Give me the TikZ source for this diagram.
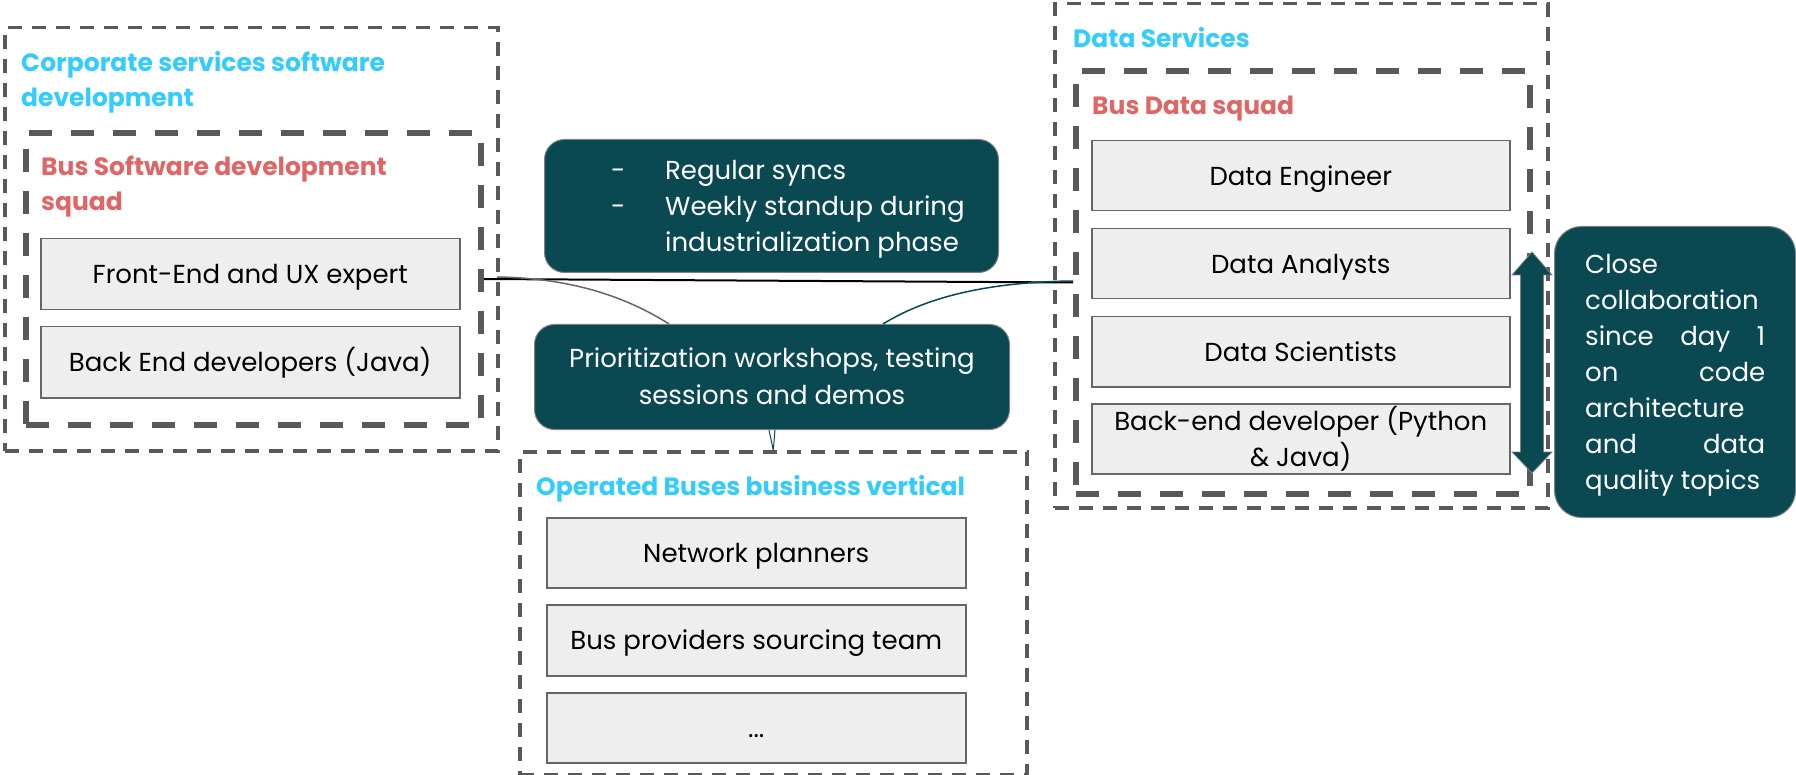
\documentclass[tikz,border=0pt]{standalone}
\usepackage{fontspec}
\setmainfont{Poppins}
\usetikzlibrary{calc}

\definecolor{deepteal}{HTML}{0A4852}
\definecolor{grpcyan}{HTML}{33CCFF}
\definecolor{squadred}{HTML}{E06666}
\definecolor{dashgray}{HTML}{595959}
\definecolor{rolegray}{HTML}{666666}
\definecolor{rolefill}{HTML}{EEEEEE}

\newcommand\rolesize{\fontsize{26}{36}\selectfont}
\newcommand\headsize{\fontsize{25}{35}\selectfont\bfseries}

\begin{document}
\begin{tikzpicture}[x=1pt,y=-1pt,
  groupbox/.style={draw=dashgray, line width=3.5pt, dash pattern=on 14pt off 10pt,
    anchor=north west, inner sep=0pt},
  squadbox/.style={draw=dashgray, line width=6pt, dash pattern=on 23pt off 19pt,
    anchor=north west, inner sep=0pt},
  role/.style={draw=rolegray, line width=1.5pt, fill=rolefill, anchor=north west,
    inner sep=0pt, font=\rolesize, text=black, align=center,
    text height=19pt, text depth=0pt},
  tealbox/.style={fill=deepteal, draw=gray, line width=1pt, rounded corners=20pt,
    inner sep=0pt},
  grouptitle/.style={text=grpcyan, font=\headsize, anchor=base west, inner sep=0pt,
    align=left},
  squadtitle/.style={text=squadred, font=\headsize, anchor=base west, inner sep=0pt,
    align=left},
  whitetext/.style={text=white, font=\rolesize, inner sep=0pt}
]
\useasboundingbox (0,0) rectangle (1796,775);

% ---------- Corporate services software development ----------
% (multi-line labels are anchored at the baseline of their last line)
\node[groupbox, minimum width=493pt, minimum height=423pt] (corp) at (3,26) {};
\node[grouptitle] (corpt) at (21,107) {Corporate services software\\development};
\node[squadbox, minimum width=455pt, minimum height=292pt] (bsw) at (23,130) {};
\node[squadtitle] (bswt) at (41,211) {Bus Software development\\squad};
\node[role, minimum width=419pt, minimum height=71pt] (fe) at (40,238) {Front-End and UX expert};
\node[role, minimum width=419pt, minimum height=71pt] (be) at (40,326) {Back End developers (Java)};

% ---------- Data Services ----------
\node[groupbox, minimum width=493pt, minimum height=504pt] (ds) at (1053,2) {};
\node[grouptitle] (dst) at (1073,48) {Data Services};
\node[squadbox, minimum width=454pt, minimum height=423pt] (bds) at (1073,68) {};
\node[squadtitle] (bdst) at (1092,115) {Bus Data squad};
\node[role, minimum width=418pt, minimum height=70pt] (deng) at (1091,140) {Data Engineer};
\node[role, minimum width=418pt, minimum height=70pt] (dan) at (1091,228) {Data Analysts};
\node[role, minimum width=418pt, minimum height=70pt] (dsc) at (1091,316) {Data Scientists};
\node[role, minimum width=418pt, minimum height=70pt, text height=55pt] (bed) at (1091,403)
  {Back-end developer (Python\\\& Java)};

% ---------- Operated Buses business vertical ----------
\node[groupbox, minimum width=507pt, minimum height=323pt] (ops) at (518,450) {};
\node[grouptitle] (opst) at (536,495) {Operated Buses business vertical};
\node[role, minimum width=419pt, minimum height=70pt] (np) at (546,517) {Network planners};
\node[role, minimum width=419pt, minimum height=71pt] (bps) at (546,604) {Bus providers sourcing team};
\node[role, minimum width=419pt, minimum height=70pt] (etc) at (546,692) {...};

% ---------- Connectors ----------
\coordinate (gstart) at (497,277);
\coordinate (tstart) at (1073,281);
\draw[line width=2pt, black] (bsw.east) -- (bds.west);

% ---------- Collaboration notes ----------
\node[tealbox, anchor=north west, minimum width=454pt, minimum height=133pt] (sync) at (544,139) {};
\node[whitetext, anchor=base west, align=left] (synct) at (611,252)
  {\makebox[54pt][l]{-}Regular syncs\\
   \makebox[54pt][l]{-}Weekly standup during\\
   \makebox[54pt][l]{}industrialization phase};

\node[tealbox, anchor=north west, minimum width=475pt, minimum height=105pt] (prio) at (534,324) {};
\node[whitetext, align=center, anchor=base] (priot) at ($(prio.north)+(0,80)$)
  {Prioritization workshops, testing\\sessions and demos};

\coordinate (gend) at ($(prio.north west)+(135,0)$);
\coordinate (tend) at ($(prio.north west)+(349,0)$);
\draw[line width=1.5pt, rolegray] (gstart) .. controls (570,278) and (625,296) .. (gend);
\draw[line width=1.5pt, deepteal] (tstart) .. controls (985,282) and (925,298) .. (tend);
\draw[line width=1pt, deepteal] ($(prio.south)+(-3,0)$) -- (ops.north);
\draw[line width=1pt, deepteal] ($(prio.south)+(3,0)$) -- (ops.north);

% ---------- Close collaboration ----------
\node[tealbox, rounded corners=27pt, anchor=north west, minimum width=241pt,
  minimum height=291pt] (close) at (1554,226) {};
\node[whitetext, anchor=base west, align=left] (closet) at (1585,489)
  {Close\\
   collaboration\\
   \makebox[180pt][s]{since day 1}\\
   \makebox[180pt][s]{on code}\\
   architecture\\
   \makebox[180pt][s]{and data}\\
   quality topics};

% double-headed block arrow between the squad and the note
\fill[deepteal, draw=gray, line width=0.8pt]
  (1532,252) -- (1552,275) -- (1543.5,275) -- (1543.5,452) -- (1552,452)
  -- (1532,473) -- (1512,452) -- (1520.5,452) -- (1520.5,275) -- (1512,275) -- cycle;
\end{tikzpicture}
\end{document}
